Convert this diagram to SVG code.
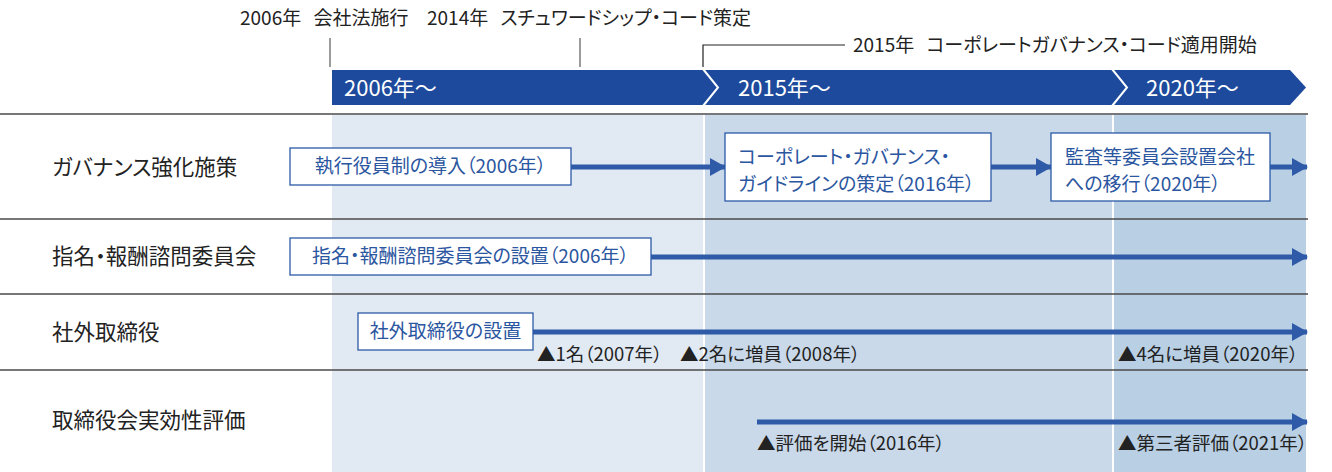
<svg xmlns="http://www.w3.org/2000/svg" width="1332" height="472" viewBox="0 0 1332 472">
<defs>
<style>
text{font-family:"Noto Sans CJK JP","Noto Sans",sans-serif;font-feature-settings:"palt" 1;}
.top{font-size:19px;fill:#222;}
.row{font-size:21.5px;fill:#222;}
.hdr{font-size:22px;fill:#fff;}
.box{fill:#fff;stroke:#2c5aa6;stroke-width:1.3;}
.bt{font-size:19px;fill:#2b56a0;}
.note{font-size:18.5px;fill:#222;}
.arr{stroke:#2f5aa8;stroke-width:5;fill:none;marker-end:url(#ah);}
.hl{stroke:#4a4a4a;stroke-width:1.5;}
.tick{stroke:#666;stroke-width:1.3;fill:none;}
</style>
<marker id="ah" markerUnits="userSpaceOnUse" markerWidth="16" markerHeight="18" refX="15" refY="9" orient="auto">
<path d="M0,0 L16,9 L0,18 Z" fill="#2f5aa8"/>
</marker>
</defs>
<rect width="1332" height="472" fill="#fff"/>
<g id="columns">
<rect x="332" y="115" width="371" height="357" fill="#e1e9f2"/>
<rect x="705" y="115" width="407" height="357" fill="#c9d9e9"/>
<rect x="1114" y="115" width="192" height="357" fill="#b8cfe4"/>
</g>
<g id="rules">
<line class="hl" x1="0" y1="114" x2="1308" y2="114"/>
<line class="hl" x1="0" y1="219" x2="1308" y2="219"/>
<line class="hl" x1="0" y1="294" x2="1308" y2="294"/>
<line class="hl" x1="0" y1="370" x2="1308" y2="370"/>
</g>
<g id="header">
<polygon points="332,70 1290,70 1306,87.5 1290,105 332,105" fill="#1d4a9c"/>
<polyline points="703,69 718,87.5 703,106" fill="none" stroke="#fff" stroke-width="2"/>
<polyline points="1112,69 1127,87.5 1112,106" fill="none" stroke="#fff" stroke-width="2"/>
<text class="hdr" x="344" y="96">2006年〜</text>
<text class="hdr" x="738" y="96">2015年〜</text>
<text class="hdr" x="1146" y="96">2020年〜</text>
</g>
<g id="milestones">
<text class="top" x="240" y="25">2006年 <tspan dx="8">会社法施行</tspan></text>
<text class="top" x="427" y="25">2014年 <tspan dx="8">スチュワードシップ・コード策定</tspan></text>
<line class="tick" x1="330" y1="38" x2="330" y2="67"/>
<line class="tick" x1="580" y1="38" x2="580" y2="67"/>
<polyline points="703,67 703,45 845,45" fill="none" stroke="#222" stroke-width="1.2"/>
<text class="top" x="853" y="52">2015年 <tspan dx="8">コーポレートガバナンス・コード適用開始</tspan></text>
</g>
<g id="row-labels">
<text class="row" x="52" y="175">ガバナンス強化施策</text>
<text class="row" x="52" y="264">指名・報酬諮問委員会</text>
<text class="row" x="52" y="340">社外取締役</text>
<text class="row" x="52" y="428">取締役会実効性評価</text>
</g>
<g id="connectors">
<line class="arr" x1="571" y1="167" x2="725" y2="167"/>
<line class="arr" x1="991" y1="167" x2="1051" y2="167"/>
<line class="arr" x1="1270" y1="167" x2="1307" y2="167"/>
<line class="arr" x1="651" y1="257" x2="1307" y2="257"/>
<line class="arr" x1="533" y1="332" x2="1307" y2="332"/>
<line class="arr" x1="757" y1="422" x2="1307" y2="422"/>
</g>
<g id="node-shikkou">
<rect class="box" x="290" y="148" width="281" height="37"/>
<text class="bt" x="430.5" y="173" text-anchor="middle">執行役員制の導入（2006年）</text>
</g>
<g id="node-cgguideline">
<rect class="box" x="725" y="133" width="266" height="68"/>
<text class="bt" x="738" y="164">コーポレート・ガバナンス・</text>
<text class="bt" x="738" y="191">ガイドラインの策定（2016年）</text>
</g>
<g id="node-kansatou">
<rect class="box" x="1051" y="133" width="219" height="68"/>
<text class="bt" x="1065" y="164">監査等委員会設置会社</text>
<text class="bt" x="1065" y="191">への移行（2020年）</text>
</g>
<g id="node-shimei">
<rect class="box" x="290" y="238" width="361" height="37"/>
<text class="bt" x="470.5" y="263" text-anchor="middle">指名・報酬諮問委員会の設置（2006年）</text>
</g>
<g id="node-shagai">
<rect class="box" x="358" y="313" width="175" height="37"/>
<text class="bt" x="445.5" y="338" text-anchor="middle">社外取締役の設置</text>
</g>
<g id="notes">
<text class="note" x="537" y="361">▲1名（2007年）</text>
<text class="note" x="680" y="361">▲2名に増員（2008年）</text>
<text class="note" x="1118" y="361">▲4名に増員（2020年）</text>
<text class="note" x="757" y="450">▲評価を開始（2016年）</text>
<text class="note" x="1118" y="450">▲第三者評価（2021年）</text>
</g>
</svg>
